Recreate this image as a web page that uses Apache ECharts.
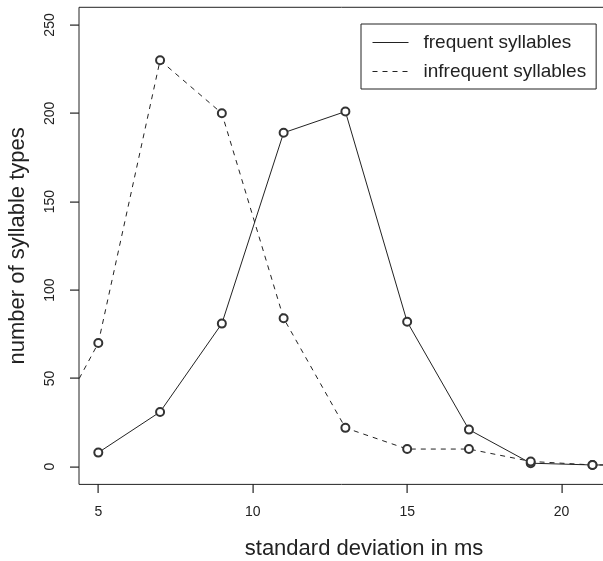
<!DOCTYPE html>
<html>
<head>
<meta charset="utf-8">
<script src="https://cdn.jsdelivr.net/npm/echarts@6/dist/echarts.min.js"></script>
<style>
  html, body { margin: 0; padding: 0; background: #fff; }
  #chart { width: 603px; height: 561px; }
</style>
</head>
<body>
<div id="chart"></div>
<script>
// data
var frequentX = [5, 7, 9, 11, 13, 15, 17, 19, 21, 23];
var frequentY = [8, 31, 81, 189, 201, 82, 21, 2, 1, 1];
var infrequentX = [3, 5, 7, 9, 11, 13, 15, 17, 19, 21, 23];
var infrequentY = [5, 70, 230, 200, 84, 22, 10, 10, 3, 1, 1];
var xTicks = [5, 10, 15, 20];
var yTicks = [0, 50, 100, 150, 200, 250];

function pairs(xs, ys) {
  return xs.map(function (x, i) { return [x, ys[i]]; });
}

var font = 'Liberation Sans, Arial, Helvetica, sans-serif';
var ink = '#222';
var xMin = 4.375, xMax = 22.83;
var yMin = -10, yMax = 260;
var tickLen = 9;

var chart = echarts.init(document.getElementById('chart'));
chart.setOption({
  animation: false,
  backgroundColor: '#fff',
  // plot region runs past the right edge of the picture (cropped figure)
  grid: {
    left: 79,
    top: 7.3,
    width: 570,
    bottom: 76.6,
    outerBoundsMode: 'none',
    show: true,
    borderColor: ink,
    borderWidth: 1
  },
  legend: {
    orient: 'vertical',
    left: 361,
    top: 24,
    padding: [9, 10, 8, 11],
    itemGap: 10,
    itemWidth: 36,
    itemHeight: 19,
    borderColor: ink,
    borderWidth: 1,
    itemStyle: { opacity: 0 },
    lineStyle: { width: 1 },
    textStyle: {
      fontFamily: font,
      fontSize: 19,
      lineHeight: 19,
      color: ink,
      padding: [0, 0, 0, 10]
    },
    data: ['frequent syllables', 'infrequent syllables']
  },
  xAxis: {
    type: 'value',
    min: xMin,
    max: xMax,
    name: 'standard deviation in ms',
    nameLocation: 'middle',
    nameGap: 54,
    nameTextStyle: { fontFamily: font, fontSize: 22, color: ink },
    axisLine: { show: false, onZero: false },
    axisTick: { show: false },
    axisLabel: {
      customValues: xTicks,
      margin: 21,
      fontFamily: font,
      fontSize: 14,
      color: ink
    },
    splitLine: { show: false }
  },
  yAxis: {
    type: 'value',
    min: yMin,
    max: yMax,
    name: 'number of syllable types',
    nameLocation: 'middle',
    nameGap: 50,
    nameTextStyle: { fontFamily: font, fontSize: 22, color: ink },
    axisLine: { show: false, onZero: false },
    axisTick: { show: false },
    axisLabel: {
      customValues: yTicks,
      rotate: 90,
      margin: 22,
      fontFamily: font,
      fontSize: 14,
      color: ink
    },
    splitLine: { show: false }
  },
  series: [
    {
      name: 'frequent syllables',
      type: 'line',
      data: pairs(frequentX, frequentY),
      clip: true,
      symbol: 'emptyCircle',
      symbolSize: 8,
      color: ink,
      lineStyle: { color: ink, width: 1, type: 'solid' },
      itemStyle: { color: '#333', borderWidth: 0.8 }
    },
    {
      name: 'infrequent syllables',
      type: 'line',
      data: pairs(infrequentX, infrequentY),
      clip: true,
      symbol: 'emptyCircle',
      symbolSize: 8,
      color: ink,
      lineStyle: { color: ink, width: 1, type: [5, 5] },
      itemStyle: { color: '#333', borderWidth: 0.8 }
    }
  ]
});

// outward tick marks as thin filled bars, placed through the chart's own scales
var ticks = [];
xTicks.forEach(function (v) {
  var p = chart.convertToPixel({ gridIndex: 0 }, [v, yMin]);
  ticks.push({
    type: 'rect',
    z: 100,
    silent: true,
    shape: { x: Math.round(p[0]) - 0.5, y: Math.round(p[1]), width: 1.2, height: tickLen },
    style: { fill: ink, stroke: null }
  });
});
yTicks.forEach(function (v) {
  var p = chart.convertToPixel({ gridIndex: 0 }, [xMin, v]);
  ticks.push({
    type: 'rect',
    z: 100,
    silent: true,
    shape: { x: Math.round(p[0]) - tickLen, y: Math.round(p[1]) - 0.5, width: tickLen, height: 1.2 },
    style: { fill: ink, stroke: null }
  });
});
chart.setOption({ graphic: { elements: ticks } });
</script>
</body>
</html>
